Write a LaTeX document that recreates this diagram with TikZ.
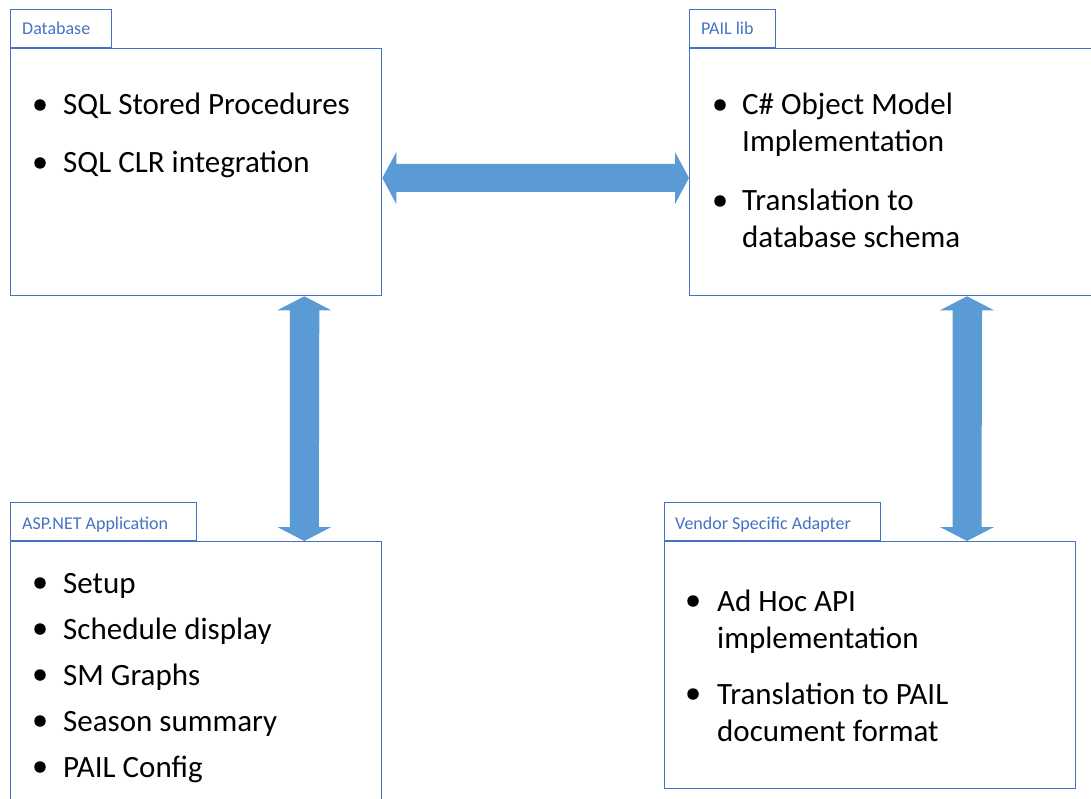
\documentclass[tikz,border=0pt]{standalone}
\usepackage{fontspec}
\setmainfont{Carlito}
\usetikzlibrary{arrows.meta,calc}
\definecolor{frame}{HTML}{4472C4}
\definecolor{flow}{HTML}{5B9BD5}
\tikzset{
  panel/.style={draw=frame, line width=1.3pt, inner sep=0pt, anchor=north west},
  tab/.style={draw=frame, line width=1.3pt, inner sep=0pt, anchor=south west},
  tabtext/.style={text=frame, inner sep=0pt, anchor=base west, font=\fontsize{18}{21}\selectfont},
  itemtext/.style={inner sep=0pt, anchor=base west, font=\fontsize{31}{37}\selectfont},
  dot/.style={circle, fill=black, inner sep=0pt, minimum size=11.5pt},
  link/.style={fill=flow},
}
\begin{document}
\begin{tikzpicture}[x=1pt, y=-1pt]
\useasboundingbox (0,0) rectangle (1091,799);
\begin{scope}
\clip (0,0) rectangle (1091,799);
% panels
\node[panel, minimum width=371pt, minimum height=247pt] (db) at (10,48) {};
\node[tab, minimum width=101pt, minimum height=38pt] (dbtab) at (10,48) {};
\node[panel, minimum width=440pt, minimum height=247pt] (pail) at (689,48) {};
\node[tab, minimum width=86pt, minimum height=38pt] (pailtab) at (689,48) {};
\node[panel, minimum width=371pt, minimum height=300pt] (asp) at (10,541) {};
\node[tab, minimum width=186pt, minimum height=38pt] (asptab) at (10,541) {};
\node[panel, minimum width=411pt, minimum height=247pt] (ven) at (664,541) {};
\node[tab, minimum width=216pt, minimum height=38pt] (ventab) at (664,541) {};
\end{scope}

% tab titles
\node[tabtext] (dbtitle) at (22,35) {Database};
\node[tabtext] (pailtitle) at (701,35) {PAIL lib};
\node[tabtext] (asptitle) at (22,529) {ASP.NET Application};
\node[tabtext] (ventitle) at (675,529) {Vendor Specific Adapter};

% Database items
\node[dot] (dbb1) at (40,105) {};
\node[itemtext] (dbl1) at (63,115) {SQL Stored Procedures};
\node[dot] (dbb2) at (40,163) {};
\node[itemtext] (dbl2) at (63,173) {SQL CLR integration};

% PAIL lib items
\node[dot] (pb1) at (720,105) {};
\node[itemtext] (pl1) at (742,115) {C\# Object Model};
\node[itemtext] (pl2) at (742,152) {Implementation};
\node[dot] (pb2) at (720,201) {};
\node[itemtext] (pl3) at (742,211) {Translation to};
\node[itemtext] (pl4) at (742,248) {database schema};

% ASP.NET items
\node[dot] (ab1) at (40,583) {};
\node[itemtext] (al1) at (63,593) {Setup};
\node[dot] (ab2) at (40,629) {};
\node[itemtext] (al2) at (63,639) {Schedule display};
\node[dot] (ab3) at (40,675) {};
\node[itemtext] (al3) at (63,685) {SM Graphs};
\node[dot] (ab4) at (40,721) {};
\node[itemtext] (al4) at (63,731) {Season summary};
\node[dot] (ab5) at (40,767) {};
\node[itemtext] (al5) at (63,777) {PAIL Config};

% Vendor adapter items
\node[dot] (vb1) at (693,601) {};
\node[itemtext] (vl1) at (717,611) {Ad Hoc API};
\node[itemtext] (vl2) at (717,648) {implementation};
\node[dot] (vb2) at (693,694) {};
\node[itemtext] (vl3) at (717,704) {Translation to PAIL};
\node[itemtext] (vl4) at (717,741) {document format};

% two-way block arrows
\coordinate (h1) at ($(db.north east)+(0,130)$);
\coordinate (h2) at ($(pail.north west)+(0,130)$);
\fill[link] (h1) -- ++(14,-26) -- ++(0,12) -- ($(h2)+(-14,-14)$) -- ++(0,-12) -- (h2)
  -- ++(-14,26) -- ++(0,-12) -- ($(h1)+(14,14)$) -- ++(0,12) -- cycle;

\coordinate (v1) at ($(db.south east)+(-78,0)$);
\coordinate (v2) at ($(asp.north east)+(-78,0)$);
\fill[link] (v1) -- ++(27,14) -- ++(-12,0) -- ($(v2)+(14.5,-14)$) -- ++(12.5,0) -- (v2)
  -- ++(-27,-14) -- ++(12.5,0) -- ($(v1)+(-14.5,14)$) -- ++(-12.5,0) -- cycle;

\coordinate (w1) at ($(pail.south west)+(278,0)$);
\coordinate (w2) at ($(ven.north west)+(303,0)$);
\fill[link] (w1) -- ++(27,14) -- ++(-12,0) -- ($(w2)+(14.5,-14)$) -- ++(12.5,0) -- (w2)
  -- ++(-27,-14) -- ++(12.5,0) -- ($(w1)+(-14.5,14)$) -- ++(-12.5,0) -- cycle;
\end{tikzpicture}
\end{document}
